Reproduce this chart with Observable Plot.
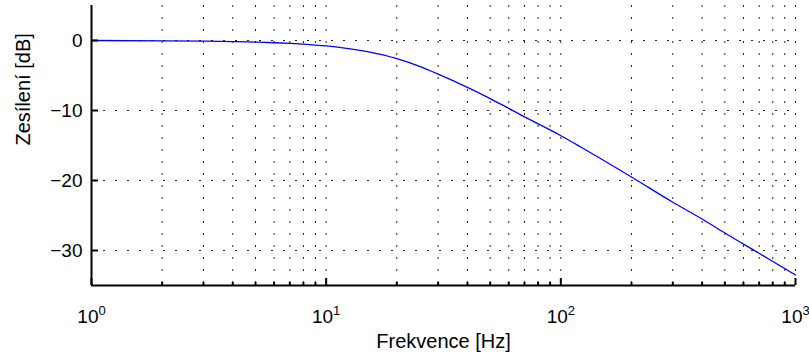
<!DOCTYPE html>
<html><head><meta charset="utf-8">
<script src="https://cdn.jsdelivr.net/npm/d3@7"></script>
<script src="https://cdn.jsdelivr.net/npm/@observablehq/plot@0.6"></script>
<style>
html,body{margin:0;padding:0;background:#fff;}
#chart svg{display:block;}
</style></head><body><div id="chart"></div>
<script>
// Frequency response (Hz, dB)
const freq = [1, 2, 3, 4, 5, 6, 7, 8, 9, 10, 12, 15, 20, 25, 30, 40, 50, 60, 70, 80, 100, 120, 150, 200, 300, 400, 500, 700, 1000];
const gainDb = [0, -0.04, -0.09, -0.15, -0.23, -0.32, -0.42, -0.53, -0.65, -0.78, -1.08, -1.6, -2.6, -3.7, -4.8, -6.7, -8.3, -9.7, -10.9, -11.9, -13.6, -15.1, -17.0, -19.5, -23.1, -25.5, -27.5, -30.4, -33.5];

const xMajorTicks = [1, 10, 100, 1000];
const xExponents = ["0", "1", "2", "3"];
const xMinorTicks = [2, 3, 4, 5, 6, 7, 8, 9, 20, 30, 40, 50, 60, 70, 80, 90, 200, 300, 400, 500, 600, 700, 800, 900];
const xGridTicks = [2, 3, 4, 5, 6, 7, 8, 9, 10, 20, 30, 40, 50, 60, 70, 80, 90, 100, 200, 300, 400, 500, 600, 700, 800, 900, 1000];
const yTicks = [0, -10, -20, -30];
const xLabel = "Frekvence [Hz]";
const yLabel = "Zesílení [dB]";

const data = freq.map((f, i) => ({f, g: gainDb[i]}));
const font = "'Liberation Sans', Arial, Helvetica, sans-serif";
const gridStyle = {stroke: "#222", strokeOpacity: 1, strokeWidth: 1, strokeDasharray: "2,10"};

const chart = Plot.plot({
  width: 809,
  height: 358,
  marginLeft: 91,
  marginRight: 14,
  marginTop: 5,
  marginBottom: 73,
  x: {type: "log", domain: [1, 1000]},
  y: {domain: [-35, 5]},
  style: {fontFamily: font, fontSize: "19px", color: "#000", background: "#fff", overflow: "visible"},
  marks: [
    Plot.ruleX(xGridTicks, {x: d => d, ...gridStyle}),
    Plot.ruleY(yTicks, {y: d => d, ...gridStyle}),
    Plot.line(data, {x: "f", y: "g", stroke: "#0000ff", strokeWidth: 1.3, curve: "monotone-x"}),
    // y tick labels
    Plot.axisY(yTicks, {anchor: "left", tickSize: 0, tickPadding: 9, label: null, fontSize: 19}),
    // inward y ticks
    Plot.axisY(yTicks, {anchor: "left", tickSize: 7, dx: 7, text: null, label: null, strokeWidth: 2}),
    // x tick labels (exponent added afterwards)
    Plot.axisX(xMajorTicks, {anchor: "bottom", tickSize: 0, tickPadding: 24, label: null, fontSize: 19,
      tickFormat: d => "10", className: "xmajor"}),
    // inward x ticks
    Plot.axisX(xMajorTicks, {anchor: "bottom", tickSize: 7, dy: -7, text: null, label: null, strokeWidth: 2}),
    Plot.axisX(xMinorTicks, {anchor: "bottom", tickSize: 3, dy: -3, text: null, label: null, strokeWidth: 2}),
    // axis lines
    Plot.ruleX([1], {strokeWidth: 2, stroke: "#000"}),
    Plot.ruleY([-35], {strokeWidth: 2, stroke: "#000", x1: 1, x2: 1000}),
    // axis titles
    Plot.text([xLabel], {frameAnchor: "bottom", dy: 62, fontSize: 20, fill: "#000"}),
    Plot.text([yLabel], {frameAnchor: "left", rotate: -90, dx: -68, fontSize: 20, fill: "#000"})
  ]
});

document.getElementById("chart").appendChild(chart);

// add superscript exponents to the x tick labels
d3.select(chart).selectAll("g.xmajor text").each(function(d, i) {
  const t = d3.select(this);
  t.text("10");
  t.append("tspan").attr("dy", "-0.6em").attr("font-size", "13px").text(xExponents[i]);
});
</script>
</body></html>
